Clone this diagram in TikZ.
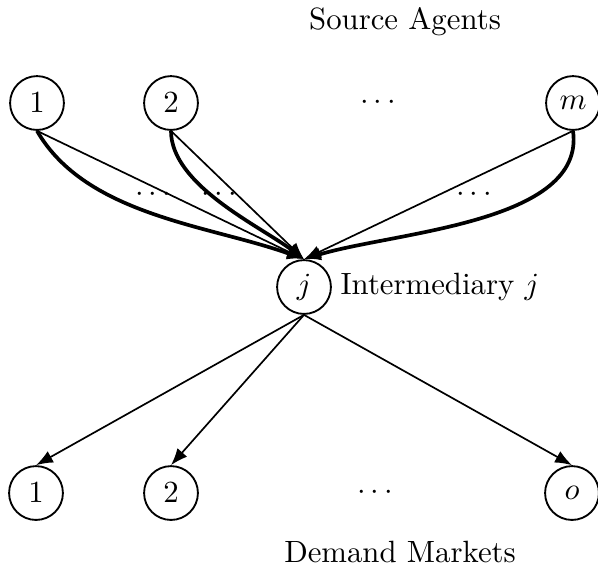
\documentclass[tikz,border=0pt]{standalone}
\usetikzlibrary{arrows.meta}
\begin{document}
\begin{tikzpicture}[x=0.325pt,y=-0.325pt,
  agent/.style={circle,draw,line width=0.6pt,minimum size=17.5pt,inner sep=0pt},
  flow/.style={-{Latex[length=5.5pt,width=4.2pt]},line width=0.55pt},
  bentflow/.style={-{Latex[length=5.5pt,width=4.2pt]},line width=1.2pt},
  lbl/.style={inner sep=0pt}]
\useasboundingbox (0,0) rectangle (598,575);
% source agents
\node[lbl] (src) at (405,22) {Source Agents};
\node[agent] (s1) at (37,103) {$1$};
\node[agent] (s2) at (171,103) {$2$};
\node[lbl] (sdots) at (378,103) {$\cdots$};
\node[agent] (sm) at (573,103) {$m$};
% intermediary
\node[agent] (j) at (304,287) {$j$};
\node[lbl,anchor=west] (jl) at (340,287) {Intermediary $j$};
% demand markets
\node[agent] (d1) at (36,493) {$1$};
\node[agent] (d2) at (171,493) {$2$};
\node[lbl] (ddots) at (375,493) {$\cdots$};
\node[agent] (do) at (572,493) {$o$};
\node[lbl] (dem) at (400,552) {Demand Markets};
% links from source agents to intermediary
\draw[flow] (s1.south) -- (j.north);
\draw[bentflow] (s1.south) to[out=-60,in=160,looseness=0.85] (j.north);
\draw[flow] (s2.south) -- (j.north);
\draw[bentflow] (s2.south) to[out=-90,in=143,looseness=0.75] (j.north);
\draw[flow] (sm.south) -- (j.north);
\draw[bentflow] (sm.south) to[out=-82,in=17,looseness=0.8] (j.north);
% parallel-link markers
\node[lbl] (e1) at (153,195) {$\cdots$};
\node[lbl] (e2) at (219,195) {$\cdots$};
\node[lbl] (e3) at (474,195) {$\cdots$};
% links from intermediary to demand markets
\draw[flow] (j.south) -- (d1.north);
\draw[flow] (j.south) -- (d2.north);
\draw[flow] (j.south) -- (do.north);
\end{tikzpicture}
\end{document}
